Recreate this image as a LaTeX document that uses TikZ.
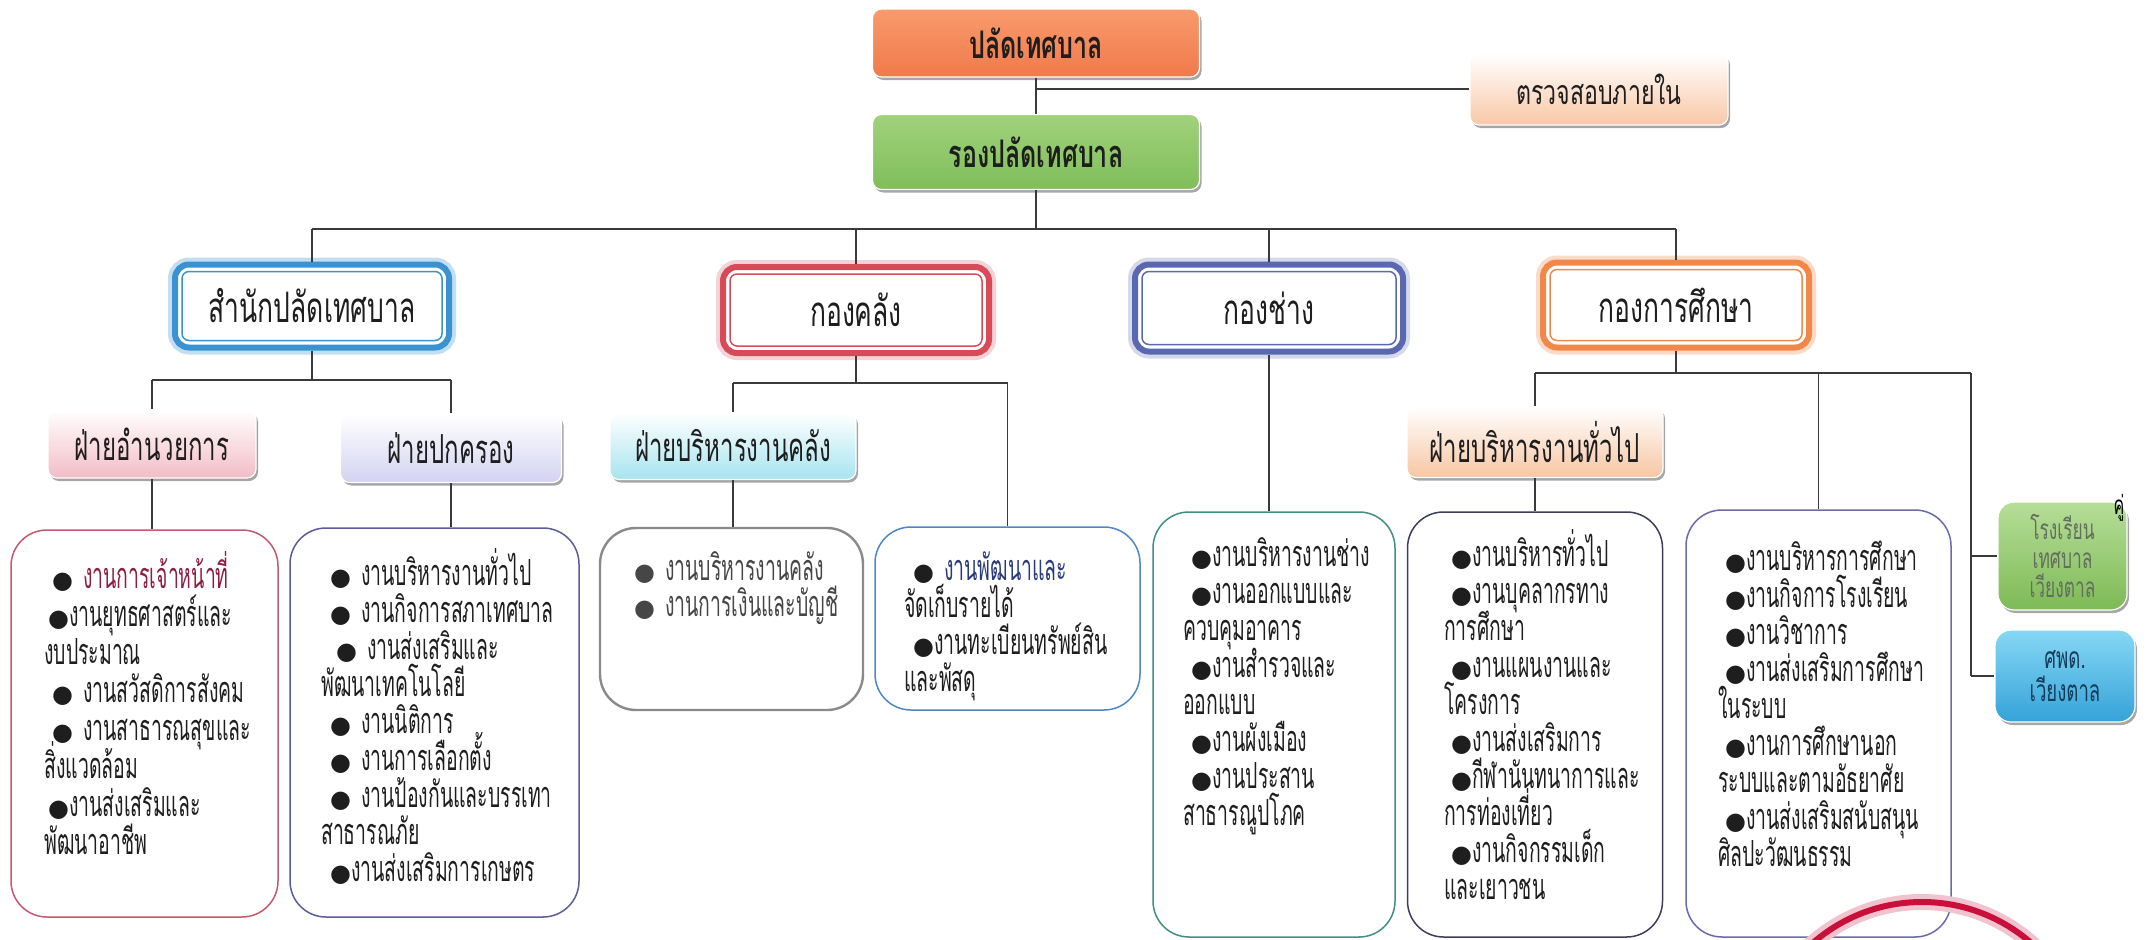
\documentclass[tikz,border=0pt]{standalone}
\usepackage{fontspec}
\usetikzlibrary{shadows}
\newfontfamily\thc[Script=Thai,FakeStretch=0.54]{Loma}
\newfontfamily\thh[Script=Thai,FakeStretch=0.63]{Loma}
\newfontfamily\thl[Script=Thai,FakeStretch=0.60]{Loma}
\newfontfamily\tht[Script=Thai,FakeStretch=0.66]{Loma}
\newfontfamily\tha[Script=Thai,FakeStretch=0.68]{Loma}
\newfontfamily\ths[Script=Thai,FakeStretch=0.62]{Loma}
\newfontfamily\dejavu{DejaVu Sans}
\newcommand{\bulletmark}{{\dejavu\fontsize{24}{24}\selectfont ●}}
\newcommand{\firststrut}{\rule{0pt}{40pt}}
\newcommand{\nolsk}{\lineskiplimit=-100pt\relax}
\newcommand{\innerframe}[2]{\draw[#2, line width=1.5pt, rounded corners=7pt] ([xshift=10pt,yshift=-10pt]#1.north west) rectangle ([xshift=-10pt,yshift=10pt]#1.south east);}
\definecolor{lineC}{HTML}{3A3A3A}
\definecolor{txt}{HTML}{1E1E1E}
\definecolor{palatT}{HTML}{F99A6C}
\definecolor{palatB}{HTML}{F07A4A}
\definecolor{rongT}{HTML}{A0D27C}
\definecolor{rongB}{HTML}{80BE5A}
\definecolor{auditB}{HTML}{F9C7A6}
\definecolor{samC}{HTML}{3A92D0}
\definecolor{klangC}{HTML}{D84A58}
\definecolor{changC}{HTML}{5A68B0}
\definecolor{suksaC}{HTML}{F0884A}
\definecolor{amnB}{HTML}{F3BCC6}
\definecolor{pokB}{HTML}{D3D3F2}
\definecolor{bkB}{HTML}{A6E4EF}
\definecolor{btB}{HTML}{F7C6A2}
\definecolor{schT}{HTML}{B6DE98}
\definecolor{schB}{HTML}{7DBA56}
\definecolor{chT}{HTML}{86D8F5}
\definecolor{chB}{HTML}{35A2D8}
\definecolor{bA}{HTML}{C65870}
\definecolor{bB}{HTML}{5C5C9C}
\definecolor{bC}{HTML}{8A8A8A}
\definecolor{bD}{HTML}{4F86C6}
\definecolor{bE}{HTML}{3F8F84}
\definecolor{bF}{HTML}{3E3E5C}
\definecolor{bG}{HTML}{6A6AAA}
\definecolor{redtxt}{HTML}{8E1E40}
\definecolor{navytxt}{HTML}{2A3A7A}
\definecolor{arcred}{HTML}{C8103A}
\lineskiplimit=-100pt
\begin{document}
\begin{tikzpicture}[x=1pt,y=-1pt,
  conn/.style={draw=lineC, line width=1.6pt},
  fillbox/.style={rounded corners=9pt, inner sep=0pt, draw=white, line width=1.2pt,
     drop shadow={shadow xshift=2pt, shadow yshift=-3pt, fill=black, opacity=0.35}, text=txt},
  hdr/.style={rounded corners=14pt, fill=white, line width=6pt, inner sep=0pt,
     font=\thh\fontsize{42}{44}\selectfont, text=txt},
  cbox/.style={rounded corners=36pt, line width=1.5pt, fill=white, inner sep=0pt},
  ctext/.style={align=left, inner sep=0pt, anchor=north west,
     font=\thc\fontsize{36}{37}\selectfont\nolsk, text=txt},
  lvthree/.style={fillbox, font=\thl\fontsize{40}{42}\selectfont}
]
\useasboundingbox (0,0) rectangle (2148,940);
\fill[white] (0,0) rectangle (2148,940);

% ---- top
\node[fillbox, top color=palatT, bottom color=palatB, minimum width=327pt, minimum height=68pt,
  font=\tht\bfseries\fontsize{38}{40}\selectfont] (palat) at (1036,43) {ปลัดเทศบาล};
\node[fillbox, top color=white, bottom color=auditB, minimum width=258pt, minimum height=72pt,
  font=\tha\fontsize{34}{36}\selectfont] (audit) at (1599,89) {ตรวจสอบภายใน};
\node[fillbox, top color=rongT, bottom color=rongB, minimum width=327pt, minimum height=75pt,
  font=\tht\bfseries\fontsize{38}{40}\selectfont] (rong) at (1036,152) {รองปลัดเทศบาล};

% ---- level 2
\node[hdr, draw=samC, preaction={draw=samC!30, line width=14pt}, minimum width=274pt, minimum height=83pt] (sam) at (312,306) {สำนักปลัดเทศบาล};
\node[hdr, draw=klangC, preaction={draw=klangC!25, line width=14pt}, minimum width=266pt, minimum height=86pt] (klang) at (856,310) {กองคลัง};
\node[hdr, draw=changC, preaction={draw=changC!25, line width=14pt}, minimum width=268pt, minimum height=87pt] (chang) at (1269,308) {กองช่าง};
\node[hdr, draw=suksaC, preaction={draw=suksaC!30, line width=14pt}, minimum width=266pt, minimum height=85pt] (suksa) at (1676,305) {กองการศึกษา};
\innerframe{sam}{samC}
\innerframe{klang}{klangC}
\innerframe{chang}{changC}
\innerframe{suksa}{suksaC}

% ---- level 3
\node[lvthree, top color=white, bottom color=amnB, minimum width=208pt, minimum height=68pt] (amnuay) at (152,444) {ฝ่ายอำนวยการ};
\node[lvthree, top color=white, bottom color=pokB, minimum width=221pt, minimum height=69pt] (pokkrong) at (451,448) {ฝ่ายปกครอง};
\node[lvthree, top color=white, bottom color=bkB, minimum width=246pt, minimum height=67pt] (bklang) at (733,446) {ฝ่ายบริหารงานคลัง};
\node[lvthree, top color=white, bottom color=btB, minimum width=256pt, minimum height=71pt] (btua) at (1535,442) {ฝ่ายบริหารงานทั่วไป};

% ---- content boxes
\node[cbox, draw=bA, minimum width=267pt, minimum height=387pt] (boxA) at (144.5,723.5) {};
\node[cbox, draw=bB, minimum width=289pt, minimum height=389pt] (boxB) at (434.5,722.5) {};
\node[cbox, draw=bC, line width=2.4pt, minimum width=263pt, minimum height=182pt] (boxC) at (731.5,619) {};
\node[cbox, draw=bD, minimum width=265pt, minimum height=183pt] (boxD) at (1007.5,618.5) {};
\node[cbox, draw=bE, minimum width=242pt, minimum height=425pt] (boxE) at (1274,724.5) {};
\node[cbox, draw=bF, minimum width=255pt, minimum height=425pt] (boxF) at (1535,724.5) {};
\node[cbox, draw=bG, minimum width=265pt, minimum height=427pt] (boxG) at (1818.5,723.5) {};

\node[fillbox, rounded corners=16pt, top color=schT, bottom color=schB, minimum width=129pt, minimum height=108pt,
  align=center, font=\ths\fontsize{28}{29}\selectfont, text={rgb,255:red,100;green,110;blue,95}] (school) at (2062.5,556) {โรงเรียน\\เทศบาล\\เวียงตาล};
\node[fillbox, rounded corners=16pt, top color=chT, bottom color=chB, minimum width=140pt, minimum height=92pt,
  align=center, font=\ths\fontsize{30}{33}\selectfont, text={rgb,255:red,20;green,60;blue,90}] (child) at (2065,676) {ศพด.\\เวียงตาล};
\node[font=\ths\fontsize{26}{26}\selectfont, inner sep=0pt] (mark) at (2119,508) {คู่};

% ---- texts
\node[ctext, font=\thc\fontsize{36}{38}\selectfont\nolsk] (textA) at (44,548) {%
\firststrut\hspace{8pt}\bulletmark\hspace{10pt}{\color{redtxt}งานการเจ้าหน้าที่}\\
\hspace{4pt}\bulletmark งานยุทธศาสตร์และ\\
งบประมาณ\\
\hspace{8pt}\bulletmark\hspace{10pt}งานสวัสดิการสังคม\\
\hspace{8pt}\bulletmark\hspace{10pt}งานสาธารณสุขและ\\
สิ่งแวดล้อม\\
\hspace{4pt}\bulletmark งานส่งเสริมและ\\
พัฒนาอาชีพ};
\node[ctext] (textB) at (321,545) {%
\firststrut\hspace{9pt}\bulletmark\hspace{10pt}งานบริหารงานทั่วไป\\
\hspace{9pt}\bulletmark\hspace{10pt}งานกิจการสภาเทศบาล\\
\hspace{15pt}\bulletmark\hspace{10pt}งานส่งเสริมและ\\
พัฒนาเทคโนโลยี\\
\hspace{9pt}\bulletmark\hspace{10pt}งานนิติการ\\
\hspace{9pt}\bulletmark\hspace{10pt}งานการเลือกตั้ง\\
\hspace{9pt}\bulletmark\hspace{10pt}งานป้องกันและบรรเทา\\
สาธารณภัย\\
\hspace{9pt}\bulletmark งานส่งเสริมการเกษตร};
\node[ctext, text={rgb,255:red,70;green,70;blue,70}, font=\thc\fontsize{36}{36}\selectfont\nolsk] (textC) at (634,540) {%
\firststrut\bulletmark\hspace{10pt}งานบริหารงานคลัง\\
\bulletmark\hspace{10pt}งานการเงินและบัญชี};
\node[ctext] (textD) at (904,540) {%
\firststrut\hspace{9pt}\bulletmark\hspace{10pt}{\color{navytxt}งานพัฒนาและ}\\
จัดเก็บรายได้\\
\hspace{9pt}\bulletmark งานทะเบียนทรัพย์สิน\\
และพัสดุ};
\node[ctext] (textE) at (1183,526) {%
\firststrut\hspace{8pt}\bulletmark งานบริหารงานช่าง\\
\hspace{8pt}\bulletmark งานออกแบบและ\\
ควบคุมอาคาร\\
\hspace{8pt}\bulletmark งานสำรวจและ\\
ออกแบบ\\
\hspace{8pt}\bulletmark งานผังเมือง\\
\hspace{8pt}\bulletmark งานประสาน\\
สาธารณูปโภค};
\node[ctext] (textF) at (1444,526) {%
\firststrut\hspace{7pt}\bulletmark งานบริหารทั่วไป\\
\hspace{7pt}\bulletmark งานบุคลากรทาง\\
การศึกษา\\
\hspace{7pt}\bulletmark งานแผนงานและ\\
โครงการ\\
\hspace{7pt}\bulletmark งานส่งเสริมการ\\
\hspace{7pt}\bulletmark กีฬานันทนาการและ\\
การท่องเที่ยว\\
\hspace{7pt}\bulletmark งานกิจกรรมเด็ก\\
และเยาวชน};
\node[ctext] (textG) at (1718,530) {%
\firststrut\hspace{7pt}\bulletmark งานบริหารการศึกษา\\
\hspace{7pt}\bulletmark งานกิจการโรงเรียน\\
\hspace{7pt}\bulletmark งานวิชาการ\\
\hspace{7pt}\bulletmark งานส่งเสริมการศึกษา\\
ในระบบ\\
\hspace{7pt}\bulletmark งานการศึกษานอก\\
ระบบและตามอัธยาศัย\\
\hspace{7pt}\bulletmark งานส่งเสริมสนับสนุน\\
ศิลปะวัฒนธรรม};

% ---- connectors
\coordinate (busone) at (0,229);
\coordinate (bustwo) at (0,380);
\coordinate (busthree) at (0,383);
\coordinate (busfour) at (0,373);
\coordinate (rx) at (1971,373);
\draw[conn] (palat.south) -- (rong.north);
\draw[conn] (palat.south |- audit.west) -- (audit.west);
\draw[conn] (rong.south) -- (rong.south |- busone);
\draw[conn] (sam.north |- busone) -- (suksa.north |- busone);
\foreach \n in {sam,klang,chang,suksa} \draw[conn] (\n.north |- busone) -- (\n.north);
\draw[conn] (sam.south) -- (sam.south |- bustwo);
\draw[conn] (amnuay.north |- bustwo) -- (pokkrong.north |- bustwo);
\draw[conn] (amnuay.north |- bustwo) -- (amnuay.north);
\draw[conn] (pokkrong.north |- bustwo) -- (pokkrong.north);
\draw[conn] (amnuay.south) -- (amnuay.south |- boxA.north);
\draw[conn] (pokkrong.south) -- (pokkrong.south |- boxB.north);
\draw[conn] (klang.south) -- (klang.south |- busthree);
\draw[conn] (bklang.north |- busthree) -- (boxD.north |- busthree);
\draw[conn] (bklang.north |- busthree) -- (bklang.north);
\draw[conn] (boxD.north |- busthree) -- (boxD.north);
\draw[conn] (bklang.south) -- (bklang.south |- boxC.north);
\draw[conn] (chang.south) -- (chang.south |- boxE.north);
\draw[conn] (suksa.south) -- (suksa.south |- busfour);
\draw[conn] (btua.north |- busfour) -- (rx);
\draw[conn] (btua.north |- busfour) -- (btua.north);
\draw[conn] (btua.south) -- (btua.south |- boxF.north);
\draw[conn] (boxG.north |- busfour) -- (boxG.north);
\draw[conn] (rx) -- (rx |- child.west);
\draw[conn] (rx |- school.west) -- (school.west);
\draw[conn] (rx |- child.west) -- (child.west);

% ---- red arc
\begin{scope}
\clip (0,0) rectangle (2148,940);
\draw[draw=arcred!25, line width=16pt] (1922,1068) circle[radius=166pt];
\draw[draw=arcred, line width=6pt] (1922,1068) circle[radius=166pt];
\end{scope}
\end{tikzpicture}
\end{document}
